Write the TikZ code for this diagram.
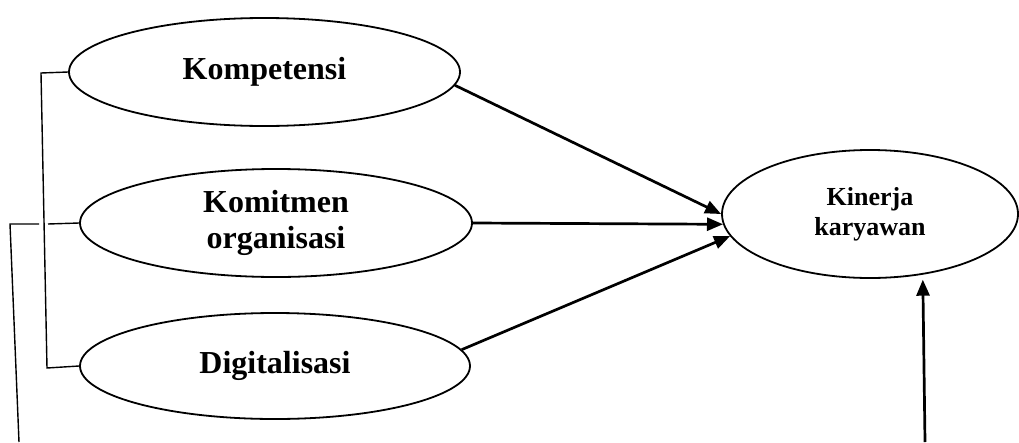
\documentclass[tikz,border=0pt]{standalone}
\usepackage{fontspec}
\setmainfont{Liberation Serif}
\usepackage{tikz}
\usetikzlibrary{shapes.geometric, arrows.meta, calc}

\begin{document}
\begin{tikzpicture}[x=1pt, y=-1pt, >={Triangle[length=16pt, width=13pt]},
  var/.style={draw, ellipse, line width=1.8pt, inner sep=0pt, align=center, font=\fontsize{32}{36}\selectfont\bfseries},
  dep/.style={draw, ellipse, line width=1.8pt, inner sep=0pt, align=center, font=\fontsize{26}{30}\selectfont\bfseries},
  link/.style={line width=1.4pt},
  path/.style={->, line width=2.7pt}]
  \useasboundingbox (0,0) rectangle (1019,442);

  % variables
  \node[var, minimum width=391pt, minimum height=108pt] (komp) at (264.5,72) {Kompetensi};
  \node[var, minimum width=392pt, minimum height=108pt] (komit) at (276,223) {Komitmen\\organisasi};
  \node[var, minimum width=390pt, minimum height=106pt] (digi) at (275,366) {Digitalisasi};
  \node[dep, minimum width=296pt, minimum height=128pt] (kin) at (870,214) {Kinerja\\karyawan};

  % corner points of the side lines
  \coordinate (a1) at (41,73);
  \coordinate (a2) at (47,368);
  \coordinate (b1) at (48,224);
  \coordinate (b2) at (39,224);
  \coordinate (b3) at (10,224);
  \coordinate (b4) at (19,442);
  \coordinate (base) at (925,442);

  \draw[link] (komp.west) -- (a1) -- (a2) -- (digi.west);
  \draw[link] (komit.west) -- (b1);
  \draw[link] (b2) -- (b3) -- (b4);

  % paths to the outcome
  \draw[path] (komp.-4) -- (kin.west);
  \draw[path] (komit.east) -- (kin.184);
  \draw[path] (digi.5) -- (kin.189);
  \draw[path, shorten >=5pt] (base) -- (kin.-49);
\end{tikzpicture}
\end{document}
